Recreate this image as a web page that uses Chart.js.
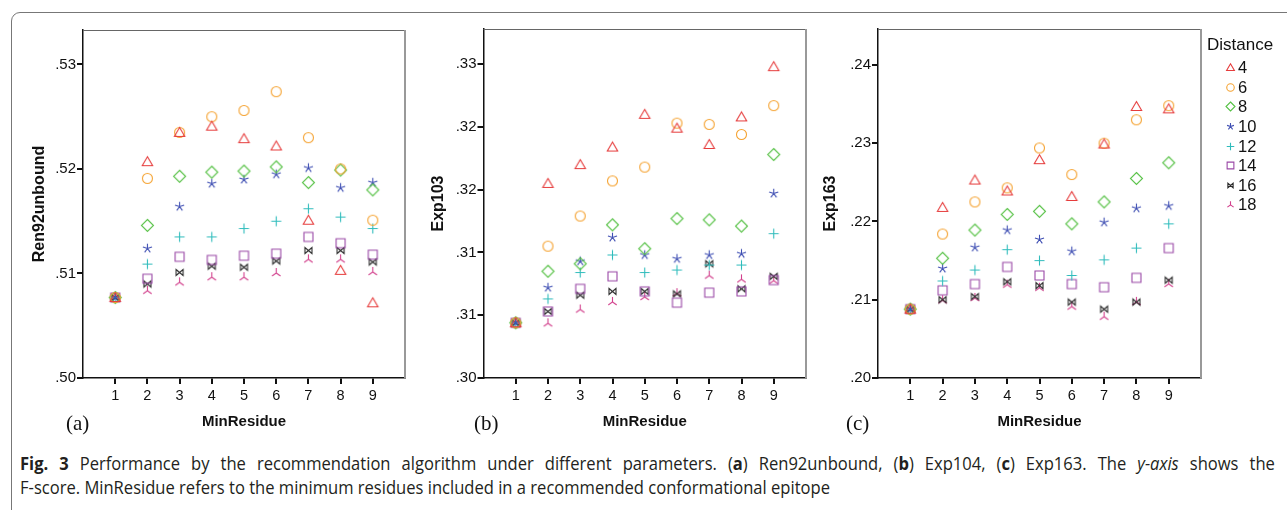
<!DOCTYPE html>
<html>
<head>
<meta charset="utf-8">
<script src="https://cdn.jsdelivr.net/npm/chart.js@4.4.1/dist/chart.umd.min.js"></script>
<style>
  body { margin: 0; background: #fff; width: 1287px; height: 510px; overflow: hidden; position: relative; font-family: "Liberation Sans", Arial, sans-serif; }
  .frame { position: absolute; left: 11px; top: 12px; width: 1320px; height: 540px; border: 1px solid #777; border-radius: 9px; }
  canvas.panel { position: absolute; top: 0; }
  .tag { position: absolute; font-family: "Liberation Serif", serif; font-size: 21px; color: #111; top: 411px; }
  #legend { position: absolute; left: 1207px; top: 34px; color: #111; font-size: 17px; }
  #legend .ttl { height: 24px; line-height: 22px; }
  #legend .row { height: 19.6px; display: flex; align-items: center; padding-left: 17px; font-size: 16.5px; }
  #legend .row canvas { margin-right: 1px; }
  .caption { position: absolute; left: 20px; top: 451px; width: 1364px; transform: scaleX(0.92); transform-origin: 0 0;
             font-family: "Open Sans", sans-serif; font-size: 18px; line-height: 24px; color: #231f20; white-space: nowrap; }
  .caption .l1 { text-align: justify; text-align-last: justify; white-space: normal; }
</style>
</head>
<body>
<div class="frame"></div>
<canvas class="panel" id="chartA" width="400" height="440" style="left:20px"></canvas>
<canvas class="panel" id="chartB" width="400" height="440" style="left:420px"></canvas>
<canvas class="panel" id="chartC" width="400" height="440" style="left:814px"></canvas>
<div class="tag" style="left:66px">(a)</div>
<div class="tag" style="left:474px">(b)</div>
<div class="tag" style="left:846px">(c)</div>
<div id="legend"><div class="ttl">Distance</div></div>
<div class="caption">
  <div class="l1"><b>Fig. 3</b> Performance by the recommendation algorithm under different parameters. (<b>a</b>) Ren92unbound, (<b>b</b>) Exp104, (<b>c</b>) Exp163. The <i>y-axis</i> shows the</div>
  <div>F-score. MinResidue refers to the minimum residues included in a recommended conformational epitope</div>
</div>
<script>
// --- Datos ---
const minResidue = [1, 2, 3, 4, 5, 6, 7, 8, 9];
const distances = [4, 6, 8, 10, 12, 14, 16, 18];

// (a) Ren92unbound
const ren92_d4  = [.5077, .5207, .5235, .5241, .5229, .5222, .5151, .5103, .5072];
const ren92_d6  = [.5077, .5191, .5235, .5250, .5256, .5274, .5230, .5200, .5151];
const ren92_d8  = [.5077, .5146, .5193, .5197, .5198, .5202, .5187, .5199, .5180];
const ren92_d10 = [.5077, .5124, .5164, .5186, .5190, .5195, .5201, .5182, .5187];
const ren92_d12 = [.5077, .5109, .5135, .5135, .5143, .5150, .5162, .5154, .5143];
const ren92_d14 = [.5077, .5095, .5116, .5113, .5117, .5119, .5135, .5129, .5118];
const ren92_d16 = [.5077, .5090, .5101, .5107, .5106, .5112, .5122, .5122, .5111];
const ren92_d18 = [.5077, .5084, .5092, .5097, .5097, .5101, .5114, .5114, .5102];

// (b) Exp103
const exp103_d4  = [.3044, .3155, .3170, .3184, .3210, .3199, .3186, .3208, .3248];
const exp103_d6  = [.3044, .3105, .3129, .3157, .3168, .3203, .3202, .3194, .3217];
const exp103_d8  = [.3044, .3085, .3091, .3122, .3103, .3127, .3126, .3121, .3178];
const exp103_d10 = [.3044, .3072, .3093, .3112, .3098, .3095, .3098, .3099, .3147];
const exp103_d12 = [.3044, .3063, .3084, .3098, .3084, .3086, .3090, .3090, .3115];
const exp103_d14 = [.3044, .3053, .3071, .3081, .3069, .3060, .3068, .3069, .3078];
const exp103_d16 = [.3044, .3053, .3066, .3069, .3069, .3067, .3091, .3071, .3081];
const exp103_d18 = [.3044, .3044, .3055, .3061, .3065, .3068, .3082, .3079, .3078];

// (c) Exp163
const exp163_d4  = [.2088, .2218, .2253, .2239, .2279, .2232, .2299, .2347, .2344];
const exp163_d6  = [.2088, .2184, .2225, .2243, .2294, .2260, .2300, .2330, .2348];
const exp163_d8  = [.2088, .2153, .2189, .2209, .2213, .2197, .2225, .2255, .2275];
const exp163_d10 = [.2088, .2140, .2167, .2189, .2177, .2162, .2199, .2217, .2220];
const exp163_d12 = [.2088, .2124, .2138, .2164, .2150, .2131, .2151, .2166, .2197];
const exp163_d14 = [.2088, .2112, .2120, .2142, .2131, .2120, .2116, .2128, .2166];
const exp163_d16 = [.2088, .2100, .2104, .2123, .2118, .2097, .2088, .2097, .2125];
const exp163_d18 = [.2088, .2100, .2103, .2120, .2116, .2092, .2079, .2098, .2121];

// ticks del eje y
const ren92Ticks = [0.50, 0.51, 0.52, 0.53];
const ren92TickLabels = ['.50', '.51', '.52', '.53'];
const exp103Ticks = [0.300, 0.305, 0.310, 0.315, 0.320, 0.325];
const exp103TickLabels = ['.30', '.31', '.31', '.32', '.32', '.33'];
const exp163Ticks = [0.20, 0.21, 0.22, 0.23, 0.24];
const exp163TickLabels = ['.20', '.21', '.22', '.23', '.24'];

// estilo de cada distancia
const markerShapes = ['triangle', 'circle', 'diamond', 'star', 'plus', 'square', 'bowtie', 'tri'];
const markerColors = ['#e63c3c', '#f5a332', '#55c144', '#3f4fb3', '#2fbcbc', '#9a48a6', '#2b2b2b', '#d2418d'];

// --- Marcadores dibujados a mano ---
function makeMarker(shape, color, k) {
    const c = document.createElement('canvas');
    const n = Math.round(17 * k);
    c.width = n; c.height = n;
    const ctx = c.getContext('2d');
    ctx.translate(n / 2, n / 2);
    ctx.scale(k, k);
    ctx.strokeStyle = color;
    ctx.lineWidth = 1.1 / k;
    ctx.beginPath();
    if (shape === 'triangle') {
        ctx.moveTo(0, -5); ctx.lineTo(5.2, 4); ctx.lineTo(-5.2, 4); ctx.closePath();
    } else if (shape === 'circle') {
        ctx.arc(0, 0, 5, 0, Math.PI * 2);
    } else if (shape === 'diamond') {
        ctx.moveTo(0, -6); ctx.lineTo(6, 0); ctx.lineTo(0, 6); ctx.lineTo(-6, 0); ctx.closePath();
    } else if (shape === 'star') {
        for (let i = 0; i < 5; i++) {
            const a = -Math.PI / 2 + i * 2 * Math.PI / 5;
            ctx.moveTo(0, 0); ctx.lineTo(Math.cos(a) * 4.8, Math.sin(a) * 4.8);
        }
    } else if (shape === 'plus') {
        ctx.moveTo(-5, 0); ctx.lineTo(5, 0); ctx.moveTo(0, -5); ctx.lineTo(0, 5);
    } else if (shape === 'square') {
        ctx.rect(-4.5, -4.5, 9, 9);
    } else if (shape === 'bowtie') {
        ctx.moveTo(-3.5, -3); ctx.lineTo(-3.5, 3); ctx.lineTo(3.5, -3); ctx.lineTo(3.5, 3); ctx.closePath();
    } else if (shape === 'tri') {
        ctx.moveTo(0, -4.5); ctx.lineTo(0, 0.5); ctx.lineTo(-4.2, 3.5);
        ctx.moveTo(0, 0.5); ctx.lineTo(4.2, 3.5);
    }
    ctx.stroke();
    return c;
}

const markers = markerShapes.map((s, i) => makeMarker(s, markerColors[i], 1));

// --- Marco gris del área del gráfico ---
const framePlugin = {
    id: 'frame',
    afterDraw(chart) {
        const { ctx, chartArea: a } = chart;
        ctx.save();
        ctx.strokeStyle = '#666';
        ctx.lineWidth = 1;
        ctx.beginPath();
        ctx.moveTo(a.left, a.top + 0.5); ctx.lineTo(a.right, a.top + 0.5);
        ctx.stroke();
        ctx.strokeStyle = '#999';
        ctx.lineWidth = 2;
        ctx.beginPath();
        ctx.moveTo(a.right, a.top); ctx.lineTo(a.right, a.bottom);
        ctx.stroke();
        ctx.restore();
    }
};

function buildPanel(id, title, series, yMin, yMax, yTicks, yLabels, yWidth, padTop, padRight, yTitlePad) {
    const datasets = series.map((arr, i) => ({
        label: String(distances[i]),
        data: minResidue.map((x, j) => ({ x, y: arr[j] })),
        pointStyle: markers[i],
        pointRadius: 6
    }));
    return new Chart(document.getElementById(id), {
        type: 'scatter',
        data: { datasets },
        options: {
            responsive: false,
            animation: false,
            layout: { padding: { top: padTop, right: padRight, left: 0, bottom: 0 } },
            plugins: { legend: { display: false }, tooltip: { enabled: false } },
            scales: {
                x: {
                    type: 'linear', min: 0, max: 10,
                    afterBuildTicks: s => { s.ticks = minResidue.map(v => ({ value: v })); },
                    afterFit: s => { s.height = 62; },
                    grid: { drawOnChartArea: false, drawTicks: true, tickLength: 6, color: '#111', lineWidth: 2 },
                    border: { color: '#111', width: 1.5 },
                    ticks: { color: '#111', padding: 3, font: { family: 'Liberation Sans', size: 14.5 }, maxRotation: 0 },
                    title: { display: true, text: 'MinResidue', color: '#111', padding: { top: 0, bottom: 9 }, font: { family: 'Liberation Sans', size: 15, weight: 'bold' } }
                },
                y: {
                    min: yMin, max: yMax,
                    afterBuildTicks: s => { s.ticks = yTicks.map(v => ({ value: v })); },
                    afterFit: s => { s.width = yWidth; },
                    grid: { drawOnChartArea: false, drawTicks: true, tickLength: 6, color: '#111', lineWidth: 2 },
                    border: { color: '#111', width: 1.5 },
                    ticks: { color: '#111', padding: 1, font: { family: 'Liberation Sans', size: 15 }, callback: (v, i) => yLabels[i] },
                    title: { display: true, text: title, color: '#111', padding: { top: yTitlePad, bottom: 0 }, font: { family: 'Liberation Sans', size: 16, weight: 'bold' } }
                }
            }
        },
        plugins: [framePlugin]
    });
}

buildPanel('chartA', 'Ren92unbound',
    [ren92_d4, ren92_d6, ren92_d8, ren92_d10, ren92_d12, ren92_d14, ren92_d16, ren92_d18],
    0.50, 0.5333, ren92Ticks, ren92TickLabels, 63, 30, 15, 10);
buildPanel('chartB', 'Exp103',
    [exp103_d4, exp103_d6, exp103_d8, exp103_d10, exp103_d12, exp103_d14, exp103_d16, exp103_d18],
    0.300, 0.3278, exp103Ticks, exp103TickLabels, 63.5, 29, 14, 9);
buildPanel('chartC', 'Exp163',
    [exp163_d4, exp163_d6, exp163_d8, exp163_d10, exp163_d12, exp163_d14, exp163_d16, exp163_d18],
    0.20, 0.2446, exp163Ticks, exp163TickLabels, 64, 29, 13, 7);

// --- Leyenda ---
const legend = document.getElementById('legend');
distances.forEach((d, i) => {
    const row = document.createElement('div');
    row.className = 'row';
    row.appendChild(makeMarker(markerShapes[i], markerColors[i], 0.75));
    const t = document.createElement('span');
    t.textContent = d;
    row.appendChild(t);
    legend.appendChild(row);
});
</script>
</body>
</html>
